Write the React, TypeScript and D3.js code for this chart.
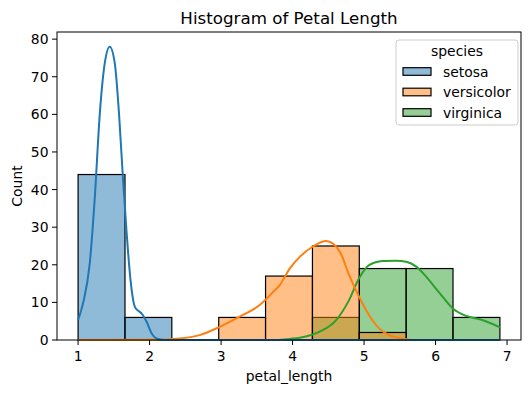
import React from 'react';
import * as d3 from 'd3';

const W = 531;
const H = 393;
const FONT = '"DejaVu Sans", sans-serif';

const SPECIES = ['setosa', 'versicolor', 'virginica'];
const COLORS = ['#1f77b4', '#ff7f0e', '#2ca02c'];

// histogram bins (9 bins over 1.0 .. 6.9)
const binEdges = [1.0, 1.656, 2.311, 2.967, 3.622, 4.278, 4.933, 5.589, 6.244, 6.9];
const setosaCounts = [44, 6, 0, 0, 0, 0, 0, 0, 0];
const versicolorCounts = [0, 0, 0, 6, 17, 25, 2, 0, 0];
const virginicaCounts = [0, 0, 0, 0, 0, 6, 19, 19, 6];

// kde curves (scaled to counts)
const setosaKdeX = [1.0, 1.07, 1.164, 1.234, 1.303, 1.373, 1.443, 1.513, 1.573, 1.629, 1.677, 1.733, 1.793, 1.84, 1.887, 1.957, 2.027, 2.096, 2.2, 6.9];
const setosaKdeY = [5.3, 9.8, 20.5, 38, 60, 73.6, 78, 73.6, 60, 42.5, 29, 16, 8.9, 7.8, 7.1, 4.9, 1.8, 0.4, 0, 0];
const versicolorKdeX = [1.0, 2.0, 2.42, 2.7, 2.98, 3.26, 3.54, 3.73, 3.82, 3.96, 4.1, 4.28, 4.47, 4.66, 4.79, 4.93, 5.07, 5.21, 5.35, 5.54, 5.7, 6.9];
const versicolorKdeY = [0, 0.05, 0.4, 1.3, 3.5, 6.2, 9.3, 12.8, 14.6, 19.0, 22.1, 24.8, 26.3, 23.5, 17.3, 11.5, 6.6, 3.1, 1.3, 0.4, 0, 0];
const virginicaKdeX = [1.0, 3.8, 3.96, 4.1, 4.38, 4.61, 4.79, 4.93, 5.07, 5.26, 5.45, 5.59, 5.73, 5.87, 6.06, 6.24, 6.43, 6.62, 6.9];
const virginicaKdeY = [0, 0, 0.3, 0.6, 2.2, 5.3, 10.6, 16.4, 19.9, 21.0, 21.1, 20.8, 19.5, 16.8, 12.4, 8.4, 6.4, 5.5, 3.4];

const xTicks = [1, 2, 3, 4, 5, 6, 7];
const yTicks = [0, 10, 20, 30, 40, 50, 60, 70, 80];

const counts = [setosaCounts, versicolorCounts, virginicaCounts];
const kdes = [
  [setosaKdeX, setosaKdeY],
  [versicolorKdeX, versicolorKdeY],
  [virginicaKdeX, virginicaKdeY],
];

const plot = { left: 57, right: 521, top: 32, bottom: 340 };

export default function App() {
  const x = d3.scaleLinear().domain([0.705, 7.195]).range([plot.left, plot.right]);
  const y = d3.scaleLinear().domain([0, 81.9]).range([plot.bottom, plot.top]);

  const line = d3
    .line<[number, number]>()
    .x((d) => x(d[0]))
    .y((d) => y(d[1]))
    .curve(d3.curveMonotoneX);

  // seaborn draws the last hue level first
  const order = [2, 1, 0];

  return (
    <div>
      <style>{`body{margin:0}`}</style>
      <svg width={W} height={H} style={{ display: 'block', fontFamily: FONT }}>
        <rect width={W} height={H} fill="#fff" />

        {/* bars */}
        {order.map((s) => (
          <g key={'bars' + s}>
            {counts[s].map((c, i) =>
              c > 0 ? (
                <rect
                  key={i}
                  x={x(binEdges[i])}
                  y={y(c)}
                  width={x(binEdges[i + 1]) - x(binEdges[i])}
                  height={y(0) - y(c)}
                  fill={COLORS[s]}
                  fillOpacity={0.5}
                  stroke="#000"
                  strokeWidth={1.2}
                />
              ) : null
            )}
          </g>
        ))}

        {/* kde lines */}
        {order.map((s) => (
          <path
            key={'kde' + s}
            d={line(kdes[s][0].map((v, i) => [v, kdes[s][1][i]] as [number, number])) || ''}
            fill="none"
            stroke={COLORS[s]}
            strokeWidth={2}
          />
        ))}

        {/* spines */}
        <rect
          x={plot.left}
          y={plot.top}
          width={plot.right - plot.left}
          height={plot.bottom - plot.top}
          fill="none"
          stroke="#000"
          strokeWidth={1}
        />

        {/* x axis */}
        {xTicks.map((t) => (
          <g key={'xt' + t} transform={`translate(${x(t)},${plot.bottom})`}>
            <line y2={5} stroke="#000" strokeWidth={1} />
            <text y={21} textAnchor="middle" fontSize={13.9} fill="#000">
              {t}
            </text>
          </g>
        ))}
        <text x={(plot.left + plot.right) / 2} y={381} textAnchor="middle" fontSize={13.9} fill="#000">
          petal_length
        </text>

        {/* y axis */}
        {yTicks.map((t) => (
          <g key={'yt' + t} transform={`translate(${plot.left},${y(t)})`}>
            <line x2={-5} stroke="#000" strokeWidth={1} />
            <text x={-8.5} dy="0.36em" textAnchor="end" fontSize={13.9} fill="#000">
              {t}
            </text>
          </g>
        ))}
        <text
          transform={`translate(21.5,${(plot.top + plot.bottom) / 2}) rotate(-90)`}
          textAnchor="middle"
          fontSize={13.9}
          fill="#000"
        >
          Count
        </text>

        {/* title */}
        <text x={(plot.left + plot.right) / 2} y={23.5} textAnchor="middle" fontSize={16.7} fill="#000">
          Histogram of Petal Length
        </text>

        {/* legend */}
        <g>
          <rect x={396} y={40} width={122} height={85} rx={3} fill="#fff" fillOpacity={0.8} stroke="#ccc" strokeWidth={1} />
          <text x={457} y={56} textAnchor="middle" fontSize={13.9} fill="#000">
            species
          </text>
          {SPECIES.map((name, i) => (
            <g key={name} transform={`translate(0,${71.5 + i * 20.5})`}>
              <rect x={403} y={-3.8} width={28} height={7.6} fill={COLORS[i]} fillOpacity={0.5} stroke="#000" strokeWidth={1.2} />
              <text x={443} dy="0.36em" fontSize={13.9} fill="#000">
                {name}
              </text>
            </g>
          ))}
        </g>
      </svg>
    </div>
  );
}
